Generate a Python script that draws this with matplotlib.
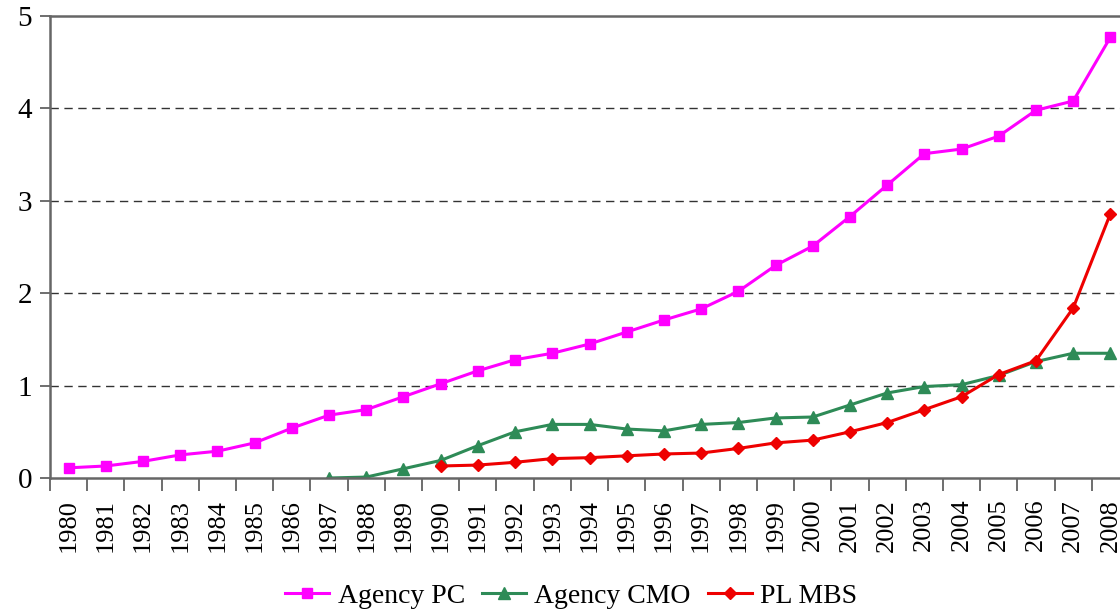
import numpy as np
import matplotlib.pyplot as plt

plt.rcParams['font.family'] = ['Liberation Serif', 'DejaVu Serif']

years = list(range(1980, 2009))

# values
agency_pc = [0.11, 0.13, 0.18, 0.25, 0.29, 0.38, 0.54, 0.68, 0.74, 0.88,
             1.02, 1.16, 1.28, 1.35, 1.45, 1.58, 1.71, 1.83, 2.02, 2.30,
             2.51, 2.83, 3.17, 3.51, 3.56, 3.70, 3.98, 4.08, 4.77]
agency_cmo = [np.nan] * 7 + [0.0, 0.01, 0.10, 0.19, 0.35, 0.50, 0.58, 0.58,
                             0.53, 0.51, 0.58, 0.60, 0.65, 0.66, 0.79, 0.92,
                             0.99, 1.01, 1.11, 1.26, 1.35, 1.35]
pl_mbs = [np.nan] * 10 + [0.13, 0.14, 0.17, 0.21, 0.22, 0.24, 0.26, 0.27,
                          0.32, 0.38, 0.41, 0.50, 0.60, 0.74, 0.88, 1.12,
                          1.27, 1.84, 2.86]

fig = plt.figure(figsize=(11.2, 6.15), dpi=100)
# axes runs a little past the right edge, like the original
ax = fig.add_axes([50 / 1120, 137 / 615, 1079 / 1120, 462 / 615])

x = np.arange(len(years))
ax.plot(x, agency_pc, color='#ff00ff', marker='s', markersize=7.5, lw=2.2, label='Agency PC')
ax.plot(x, agency_cmo, color='#2e8b57', marker='^', markersize=8.5, lw=2.2, label='Agency CMO')
ax.plot(x, pl_mbs, color='#ee0000', marker='D', markersize=6.5, lw=2.2, label='PL MBS')

ax.set_xlim(-0.5, len(years) - 0.5)
ax.set_ylim(0, 5)
ax.set_yticks(range(6))
ax.tick_params(axis='y', labelsize=21, length=7, width=1.2, color='#555555', pad=6)

ax.set_xticks(x)
ax.set_xticklabels(years, rotation=90, fontsize=19)
ax.set_xticks(np.arange(-0.5, len(years)), minor=True)
ax.tick_params(axis='x', which='major', length=0, pad=15)
ax.tick_params(axis='x', which='minor', length=9, width=1.2, color='#555555')

for v in [1, 2, 3, 4]:
    ax.axhline(v, color='#333333', lw=1, ls=(0, (6, 4)), zorder=0)

for s in ['left', 'bottom', 'top']:
    ax.spines[s].set_color('#666666')
    ax.spines[s].set_linewidth(1.8)
ax.spines['right'].set_visible(False)

fig.legend(loc='center', bbox_to_anchor=(0.51, 1 - 596 / 615), ncol=3,
           frameon=False, fontsize=20, handlelength=1.6, handletextpad=0.3,
           columnspacing=0.6)

fig.savefig('out.png', dpi=100)
